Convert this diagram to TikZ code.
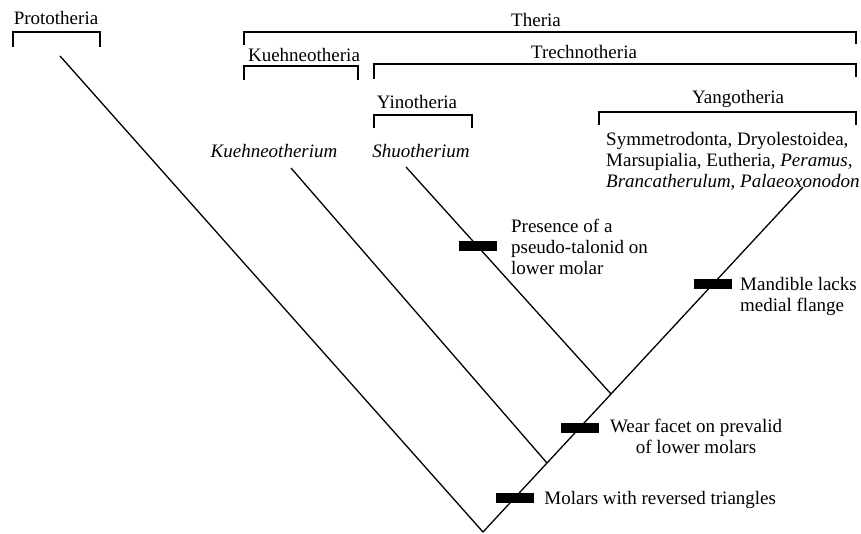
\documentclass[tikz,border=0pt]{standalone}
\usepackage{fontspec}
\setmainfont{Liberation Serif}
\usepackage{tikz}
\usetikzlibrary{positioning,calc}

\begin{document}
\begin{tikzpicture}[
    x=1pt, y=-1pt,
    font=\fontsize{19}{21}\selectfont,
    lbl/.style={inner sep=0pt, anchor=base},
    note/.style={inner sep=0pt, align=left},
    bracket/.style={line width=1.3pt},
    branch/.style={line width=1.3pt},
    trait/.style={fill=black, inner sep=0pt, minimum width=38pt, minimum height=10pt}
  ]
    \useasboundingbox (0,0) rectangle (861,534);

    \coordinate (root) at (483,532);
    \coordinate (tipProto) at (60,56);
    \coordinate (tipKuehn) at (291,168);
    \coordinate (tipShuo) at (406,167);
    \coordinate (tipYango) at (803,187);
    \coordinate (forkKuehn) at ($(root)!0.2!(tipYango)$);
    \coordinate (forkShuo) at ($(root)!0.4!(tipYango)$);

    \draw[branch] (tipProto) -- (root) -- (tipYango);
    \draw[branch] (forkKuehn) -- (tipKuehn);
    \draw[branch] (forkShuo) -- (tipShuo);

    \node[trait] (reversed) at ($(root)!0.1!(tipYango)$) {};
    \node[trait] (wear) at ($(root)!0.302!(tipYango)$) {};
    \node[trait] (mandible) at ($(root)!0.718!(tipYango)$) {};
    \node[trait] (talonid) at ($(forkShuo)!0.65!(tipShuo)$) {};

    \node[note, right=10pt of reversed, yshift=-2pt] (reversedtxt) {Molars with reversed triangles};
    \node[note, align=center, right=11pt of wear, anchor=north west, yshift=9pt] (weartxt) {Wear facet on prevalid\\of lower molars};
    \node[note, right=8pt of mandible, anchor=north west, yshift=7pt] (mandibletxt) {Mandible lacks\\medial flange};
    \node[note, right=14pt of talonid] (talonidtxt) {Presence of a\\pseudo-talonid on\\lower molar};

    \node[lbl] (kuehnerium) at (274,158) {\textit{Kuehneotherium}};
    \node[lbl] (shuotherium) at (421,158) {\textit{Shuotherium}};
    \node[note, anchor=north west] (yangotaxa) at (606,132) {Symmetrodonta, Dryolestoidea,\\Marsupialia, Eutheria, \textit{Peramus},\\\textit{Brancatherulum}, \textit{Palaeoxonodon}};

    \node[lbl] (proto) at (56,25) {Prototheria};
    \node[lbl] (theria) at (536,27) {Theria};
    \node[lbl] (kuehneo) at (304,62) {Kuehneotheria};
    \node[lbl] (trechno) at (584,59) {Trechnotheria};
    \node[lbl] (yino) at (417,109) {Yinotheria};
    \node[lbl] (yango) at (738,104) {Yangotheria};

    \draw[bracket] (13,47) |- (100,32) -- (100,47);
    \draw[bracket] (244,45) |- (856,32) -- (856,44);
    \draw[bracket] (244,80) |- (358,66) -- (358,80);
    \draw[bracket] (374,79) |- (856,64) -- (856,77);
    \draw[bracket] (374,128) |- (472,115) -- (472,128);
    \draw[bracket] (599,125) |- (856,112) -- (856,125);
  \end{tikzpicture}
\end{document}
